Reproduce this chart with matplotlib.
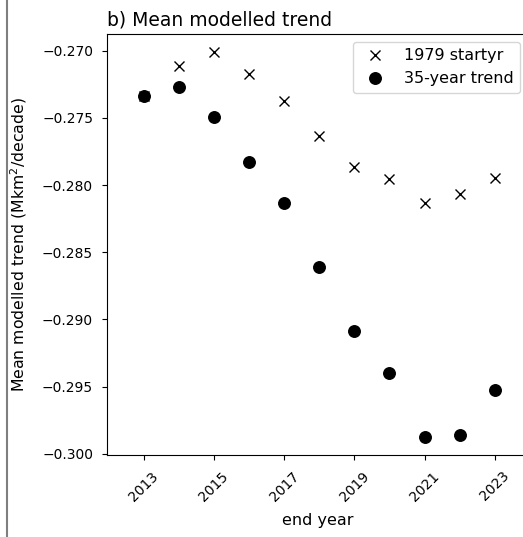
"""
Mean modelled trend vs end year (panel b)
"""
import numpy as np
import matplotlib
matplotlib.use('Agg')
import matplotlib.pyplot as plt
from matplotlib.lines import Line2D

# data
end_years = [2013, 2014, 2015, 2016, 2017, 2018, 2019, 2020, 2021, 2022, 2023]
trend_1979 = [-0.27339, -0.27115, -0.27012, -0.27174, -0.27371, -0.27638,
              -0.27869, -0.27956, -0.28136, -0.28068, -0.27949]
trend_35yr = [-0.27339, -0.27269, -0.27493, -0.27827, -0.28136, -0.28609,
              -0.29087, -0.29402, -0.29873, -0.29863, -0.29523]
xticks = [2013, 2015, 2017, 2019, 2021, 2023]

fig = plt.figure(figsize=(5.23, 5.37), dpi=100)
# axes runs off the right edge, like the cropped original
ax = fig.add_axes([0.2046, 0.1527, 0.805, 0.784])

ax.plot(end_years, trend_1979, 'x', color='black', markersize=7, label='1979 startyr')
ax.plot(end_years, trend_35yr, 'o', color='black', markersize=8.3, label='35-year trend')

ax.set_xlim(2011.95, 2023.95)
ax.set_ylim(-0.3001, -0.26875)
ax.set_xticks(xticks)
ax.tick_params(axis='x', labelrotation=45, pad=6.5)
ax.tick_params(axis='y', pad=6.5)
ax.set_xlabel('end year', fontsize=11.5, labelpad=7)
ax.set_ylabel('Mean modelled trend (Mkm$^2$/decade)', fontsize=11.3, labelpad=9)
ax.set_title('b) Mean modelled trend', loc='left', fontsize=13.5)
ax.legend(loc='upper right', fontsize=11.5)

# left border line left over from the neighbouring panel
fig.add_artist(Line2D([7 / 523, 7 / 523], [0, 1], transform=fig.transFigure,
                      color='#7f7f7f', linewidth=1.5))

fig.savefig('out.png', dpi=100)
